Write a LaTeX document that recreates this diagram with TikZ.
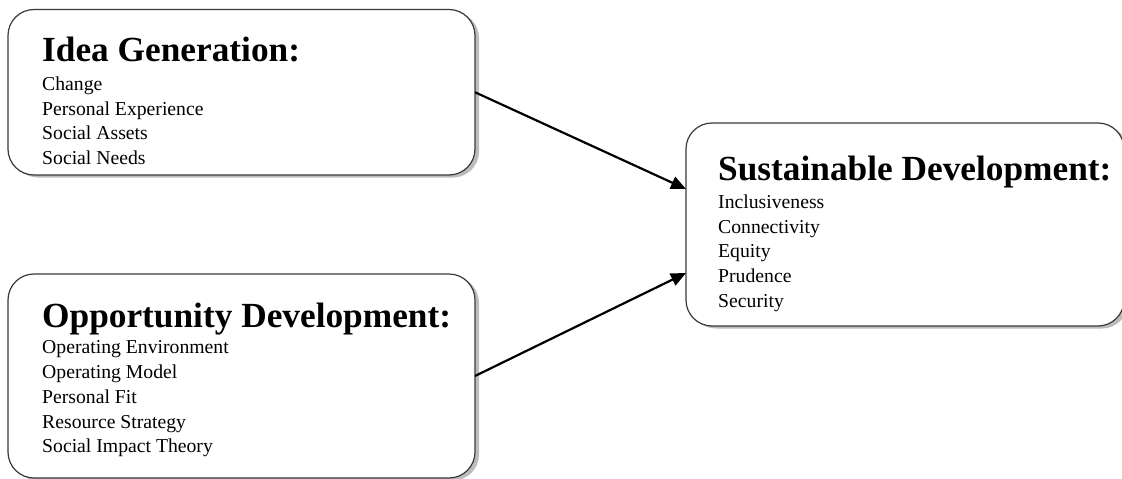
\documentclass[tikz,border=0pt]{standalone}
\usepackage{fontspec}
\setmainfont{Liberation Serif}
\usetikzlibrary{arrows.meta, shadows}

\begin{document}
\begin{tikzpicture}[x=1pt, y=-1pt,
    panel/.style={draw=gray!45!black, line width=1.2pt, fill=white, rounded corners=26pt, inner sep=0pt, outer sep=0pt,
        drop shadow={shadow xshift=4pt, shadow yshift=-2.5pt, fill=gray!75, opacity=0.7}},
    heading/.style={anchor=base west, inner sep=0pt, font=\fontsize{35.3}{40}\selectfont\bfseries},
    items/.style={anchor=north west, inner sep=0pt, align=left, font=\fontsize{19.7}{24.8}\selectfont},
    link/.style={-{Triangle[length=15pt, width=13pt]}, line width=2.2pt}]
    \useasboundingbox (0,0) rectangle (1122,479);
    \node[panel, minimum width=467pt, minimum height=165.5pt] (idea) at (241.5,92.25) {};
    \node[panel, minimum width=467pt, minimum height=204pt] (opp) at (241.5,376) {};
    \node[panel, minimum width=438pt, minimum height=203pt] (sust) at (905,224.5) {};
    \node[heading] (ideahead) at (42,61) {Idea Generation:};
    \node[items] (idealist) at (42,76.5) {Change\\Personal Experience\\Social Assets\\Social Needs};
    \node[heading] (opphead) at (42,327) {Opportunity Development:};
    \node[items] (opplist) at (42,340.5) {Operating Environment\\Operating Model\\Personal Fit\\Resource Strategy\\Social Impact Theory};
    \node[heading] (susthead) at (718,180) {Sustainable Development:};
    \node[items] (sustlist) at (718,194.5) {Inclusiveness\\Connectivity\\Equity\\Prudence\\Security};
    \draw[link] (idea.east) -- ([yshift=35.5pt]sust.west);
    \draw[link] (opp.east) -- ([yshift=-48.5pt]sust.west);
\end{tikzpicture}
\end{document}
